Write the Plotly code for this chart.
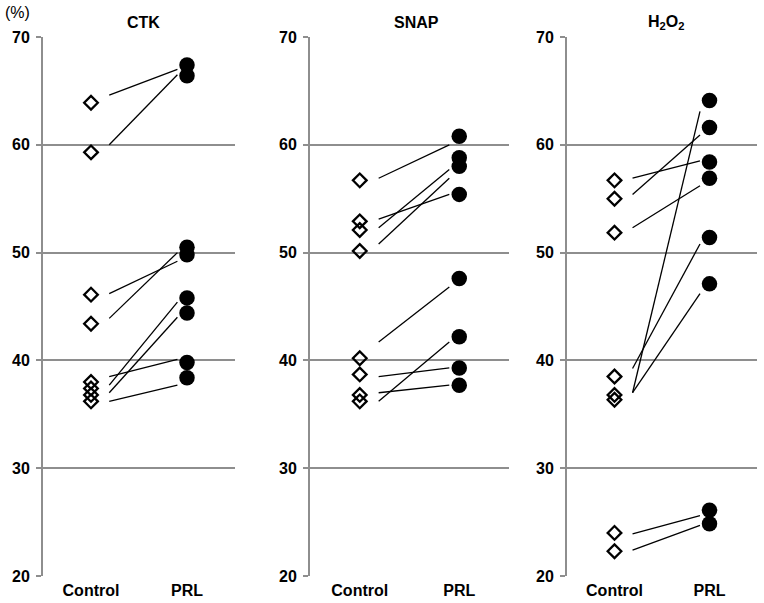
import plotly.graph_objects as go

panels = ["CTK", "SNAP", "H<sub>2</sub>O<sub>2</sub>"]
groups = ["Control", "PRL"]
y_ticks = [20, 30, 40, 50, 60, 70]

ctk_control = [63.9, 59.3, 46.1, 43.4, 38.0, 37.4, 36.8, 36.2]
ctk_prl = [67.4, 66.4, 50.5, 49.8, 45.8, 44.4, 39.8, 38.4]
ctk_line_start = [64.6, 60.0, 46.2, 43.9, 37.7, 37.0, 38.5, 36.2]
ctk_line_end = [67.0, 66.5, 49.2, 50.0, 45.4, 44.0, 40.1, 37.7]

snap_control = [56.7, 52.9, 52.1, 50.15, 40.2, 38.7, 36.8, 36.2]
snap_prl = [60.8, 58.8, 58.0, 55.4, 47.6, 42.2, 39.3, 37.7]
snap_line_start = [56.9, 53.1, 52.3, 50.8, 41.7, 36.2, 38.5, 37.0]
snap_line_end = [60.0, 55.4, 57.7, 56.9, 46.8, 41.7, 39.3, 37.7]

h2o2_control = [56.7, 55.0, 51.85, 38.5, 36.8, 36.35, 24.0, 22.3]
h2o2_prl = [64.1, 61.6, 58.4, 56.9, 51.4, 47.1, 26.1, 24.85]
h2o2_line_start = [56.9, 55.4, 52.3, 37.0, 39.25, 37.0, 23.9, 22.4]
h2o2_line_end = [58.5, 60.9, 56.2, 63.1, 50.8, 46.2, 25.6, 24.7]

data = [
    (ctk_control, ctk_prl, ctk_line_start, ctk_line_end),
    (snap_control, snap_prl, snap_line_start, snap_line_end),
    (h2o2_control, h2o2_prl, h2o2_line_start, h2o2_line_end),
]

W, H = 764, 603
MT, MB = 37, 27
PH = H - MT - MB


def py(p):
    """pixel y from top of figure -> paper y"""
    return (H - MB - p) / PH


domains = [(43 / W, 235 / W), (310 / W, 509 / W), (567 / W, 757 / W)]
title_x = [143.5 / W, 417 / W, 666 / W]
LINE_X0, LINE_X1 = 1.19, 1.9
GRAY = "#8e8e8e"
FONT = "Liberation Sans, Arial, sans-serif"

fig = go.Figure()
for i, (ctrl, prl, ls, le) in enumerate(data):
    ax = "" if i == 0 else str(i + 1)
    xs, ys = [], []
    for a, b in zip(ls, le):
        xs += [LINE_X0, LINE_X1, None]
        ys += [a, b, None]
    fig.add_trace(go.Scatter(x=xs, y=ys, mode="lines",
                             line=dict(color="black", width=1.3),
                             xaxis="x" + ax, yaxis="y" + ax, showlegend=False,
                             hoverinfo="skip"))
    fig.add_trace(go.Scatter(x=[1] * len(ctrl), y=ctrl, mode="markers",
                             marker=dict(symbol="diamond-open", size=10.5,
                                         color="black", line=dict(width=2.3, color="black")),
                             xaxis="x" + ax, yaxis="y" + ax, showlegend=False))
    fig.add_trace(go.Scatter(x=[2] * len(prl), y=prl, mode="markers",
                             marker=dict(symbol="circle", size=15.5, color="black",
                                         line=dict(width=0)),
                             xaxis="x" + ax, yaxis="y" + ax, showlegend=False))
    fig.update_layout(**{
        "xaxis" + ax: dict(domain=list(domains[i]), range=[0.5, 2.5],
                           tickvals=[1, 2], ticktext=["<b>%s</b>" % g for g in groups],
                           showgrid=False, zeroline=False, showline=False, ticks="",
                           ticklabelstandoff=3,
                           tickfont=dict(family=FONT, size=16, color="black"),
                           anchor="y" + ax, fixedrange=True),
        "yaxis" + ax: dict(domain=[0, 1], range=[20, 70], tickvals=y_ticks,
                           ticktext=["<b>%d</b>" % t for t in y_ticks],
                           showgrid=True, gridcolor=GRAY, gridwidth=2,
                           showline=True, linecolor=GRAY, linewidth=2,
                           ticks="outside", ticklen=5, tickcolor=GRAY, tickwidth=2,
                           ticklabelstandoff=3,
                           zeroline=False, anchor="x" + ax,
                           tickfont=dict(family=FONT, size=16, color="black"),
                           fixedrange=True),
    })
    fig.add_annotation(text="<b>%s</b>" % panels[i], x=title_x[i], y=py(22.5),
                       xref="paper", yref="paper", yanchor="middle", xanchor="center",
                       showarrow=False,
                       font=dict(family=FONT, size=16, color="black"))

fig.add_annotation(text="(%)", x=17 / W, y=py(12.5), xref="paper", yref="paper",
                   xanchor="center", yanchor="middle", showarrow=False,
                   font=dict(family=FONT, size=16, color="black"))

fig.update_layout(width=W, height=H, margin=dict(l=0, r=0, t=MT, b=MB),
                  plot_bgcolor="white", paper_bgcolor="white")

fig.write_html("out.html", config={"displayModeBar": False},
               post_script="document.body.style.margin='0';document.body.style.overflow='hidden';")
